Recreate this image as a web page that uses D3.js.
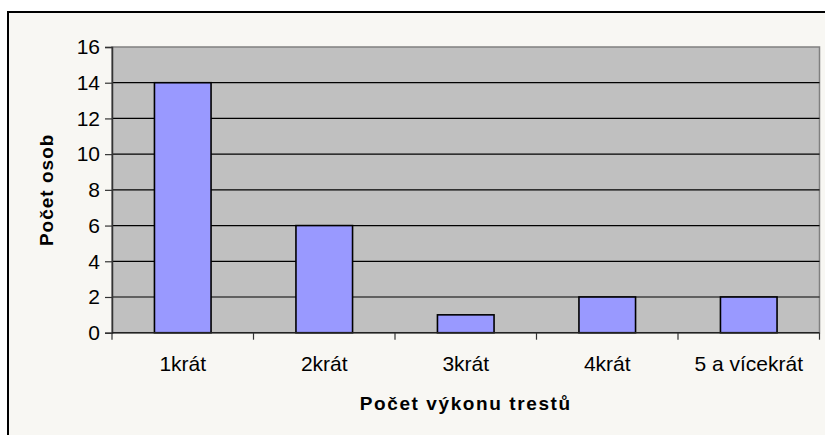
<!DOCTYPE html>
<html>
<head>
<meta charset="utf-8">
<script src="https://cdn.jsdelivr.net/npm/d3@7"></script>
<style>
  body { margin: 0; background: #fff; }
  text { font-family: "Liberation Sans", Arial, sans-serif; fill: #000; }
</style>
</head>
<body>
<svg id="chart" width="825" height="435"></svg>
<script>
// data
var categories = ["1krát", "2krát", "3krát", "4krát", "5 a vícekrát"];
var persons = [14, 6, 1, 2, 2];
var yTicks = [0, 2, 4, 6, 8, 10, 12, 14, 16];

var svg = d3.select("#chart");

// outer frame of the chart (runs off the right / bottom edge)
svg.append("rect")
    .attr("x", 8).attr("y", 12)
    .attr("width", 840).attr("height", 440)
    .attr("fill", "#F8F7F3")
    .attr("stroke", "#000")
    .attr("stroke-width", 2);

var plot = { left: 112, top: 47, right: 819.5, bottom: 332.7 };

var x = d3.scaleBand()
    .domain(categories)
    .range([plot.left, plot.right])
    .padding(0);

var y = d3.scaleLinear()
    .domain([0, 16])
    .range([plot.bottom, plot.top]);

// plot area
svg.append("rect")
    .attr("x", plot.left).attr("y", plot.top)
    .attr("width", plot.right - plot.left)
    .attr("height", plot.bottom - plot.top)
    .attr("fill", "#C0C0C0")
    .attr("stroke", "#808080")
    .attr("stroke-width", 1.5);

// gridlines
svg.append("g")
    .selectAll("line")
    .data(yTicks.filter(d => d > 0 && d < 16))
    .join("line")
    .attr("x1", plot.left).attr("x2", plot.right)
    .attr("y1", d => y(d)).attr("y2", d => y(d))
    .attr("stroke", "#000")
    .attr("stroke-width", 1.2);

// bars
var bw = x.bandwidth() * 0.4;
svg.append("g")
    .selectAll("rect")
    .data(categories)
    .join("rect")
    .attr("x", d => x(d) + (x.bandwidth() - bw) / 2)
    .attr("y", (d, i) => y(persons[i]))
    .attr("width", bw)
    .attr("height", (d, i) => y(0) - y(persons[i]))
    .attr("fill", "#9999FF")
    .attr("stroke", "#000")
    .attr("stroke-width", 1.6);

// y axis
var yAxis = svg.append("g")
    .attr("transform", "translate(" + plot.left + ",0)")
    .call(d3.axisLeft(y).tickValues(yTicks).tickSize(7).tickPadding(5));
yAxis.select(".domain").attr("stroke", "#333").attr("stroke-width", 1.5);
yAxis.selectAll(".tick line").attr("stroke", "#333").attr("stroke-width", 1.2);
yAxis.selectAll(".tick text")
    .style("font-family", "Liberation Sans, Arial, sans-serif")
    .style("font-size", "21px")
    .attr("fill", "#000");

// x axis: ticks on category boundaries
var bounds = categories.map(d => x(d)).concat([plot.right]);
var xg = svg.append("g");
xg.append("line")
    .attr("x1", plot.left).attr("x2", plot.right)
    .attr("y1", plot.bottom).attr("y2", plot.bottom)
    .attr("stroke", "#222").attr("stroke-width", 1.5);
xg.selectAll(".xt")
    .data(bounds)
    .join("line")
    .attr("class", "xt")
    .attr("x1", d => d).attr("x2", d => d)
    .attr("y1", plot.bottom).attr("y2", plot.bottom + 7)
    .attr("stroke", "#333").attr("stroke-width", 1.2);
xg.selectAll(".xl")
    .data(categories)
    .join("text")
    .attr("class", "xl")
    .attr("x", d => x(d) + x.bandwidth() / 2)
    .attr("y", 371)
    .attr("text-anchor", "middle")
    .style("font-size", "21px")
    .text(d => d);

// axis titles
svg.append("text")
    .attr("x", (plot.left + plot.right) / 2)
    .attr("y", 410)
    .attr("text-anchor", "middle")
    .style("font-size", "19px")
    .style("font-weight", "bold")
    .style("letter-spacing", "1.6px")
    .text("Počet výkonu trestů");

svg.append("text")
    .attr("transform", "translate(53," + ((plot.top + plot.bottom) / 2) + ") rotate(-90)")
    .attr("text-anchor", "middle")
    .style("font-size", "19px")
    .style("font-weight", "bold")
    .style("letter-spacing", "1px")
    .text("Počet osob");
</script>
</body>
</html>
